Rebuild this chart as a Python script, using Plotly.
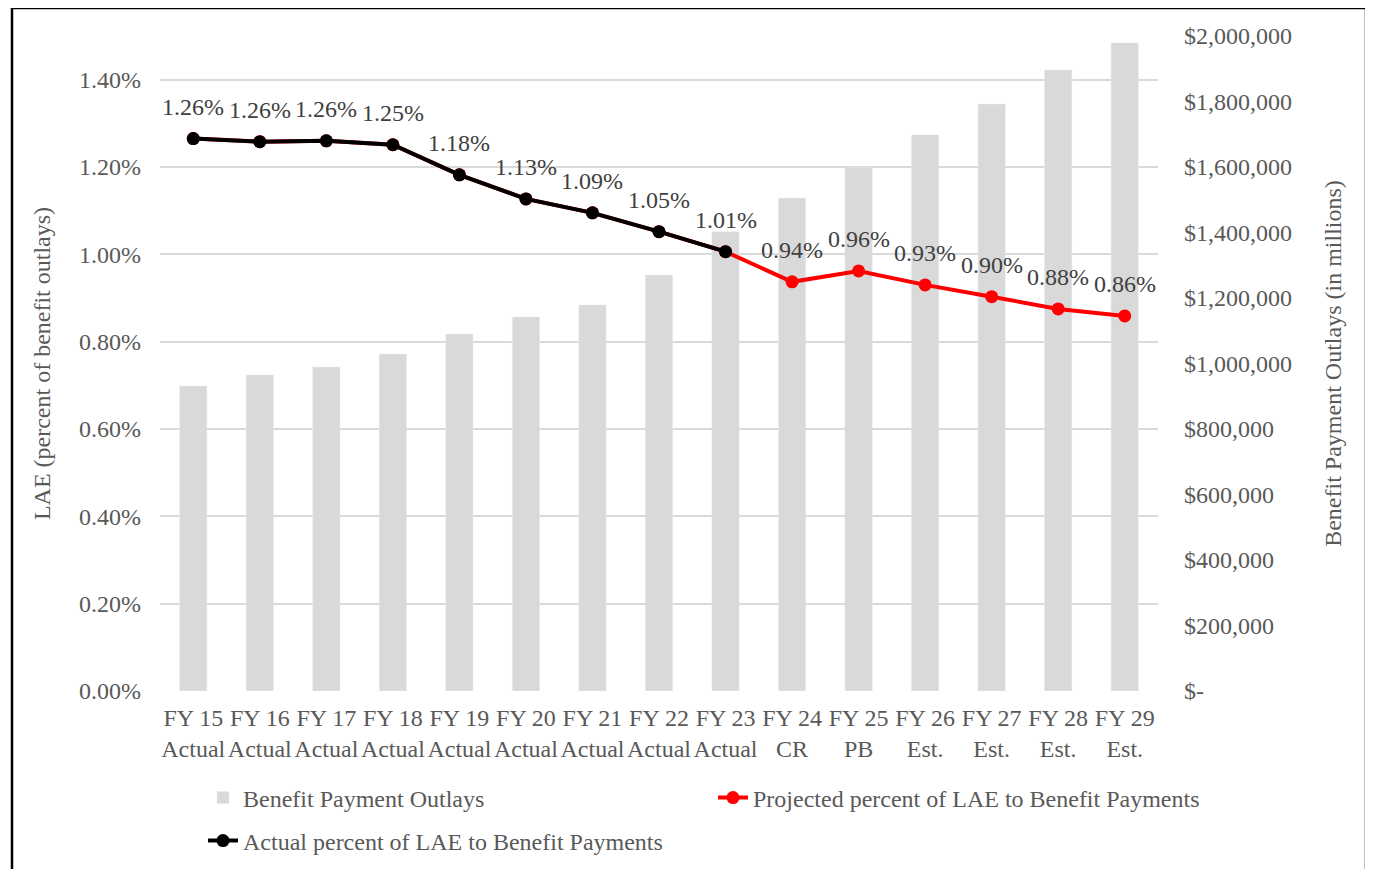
import plotly.graph_objects as go

categories = ["FY 15<br>Actual", "FY 16<br>Actual", "FY 17<br>Actual", "FY 18<br>Actual",
              "FY 19<br>Actual", "FY 20<br>Actual", "FY 21<br>Actual", "FY 22<br>Actual",
              "FY 23<br>Actual", "FY 24<br>CR", "FY 25<br>PB", "FY 26<br>Est.",
              "FY 27<br>Est.", "FY 28<br>Est.", "FY 29<br>Est."]
outlays = [931000, 965000, 989000, 1029000, 1090000, 1142000, 1179000, 1270000,
           1402000, 1505000, 1600000, 1698000, 1792000, 1896000, 1979000]
actual_pct = [1.265, 1.258, 1.260, 1.251, 1.182, 1.127, 1.095, 1.052, 1.006]
projected_pct = [1.265, 1.258, 1.260, 1.251, 1.182, 1.127, 1.095, 1.052, 1.006,
                 0.937, 0.962, 0.930, 0.903, 0.875, 0.859]
left_ticks = [0, 0.2, 0.4, 0.6, 0.8, 1.0, 1.2, 1.4]
right_ticks = [0, 200000, 400000, 600000, 800000, 1000000, 1200000, 1400000,
               1600000, 1800000, 2000000]
right_labels = ["$-"] + ["${:,}".format(v) for v in right_ticks[1:]]

FONT = "Liberation Serif, Times New Roman, serif"
GREY = "#595959"
FS = 24
W, H = 1365, 861  # page body has an 8px margin

fig = go.Figure()
fig.add_trace(go.Bar(x=categories, y=outlays, name="Benefit Payment Outlays",
                     marker_color="#d9d9d9", yaxis="y", legend="legend", showlegend=True))
fig.add_trace(go.Scatter(x=categories, y=projected_pct, mode="lines+markers",
                         name="Projected percent of LAE to Benefit Payments",
                         line=dict(color="#ff0000", width=4),
                         marker=dict(color="#ff0000", size=13), yaxis="y2",
                         legend="legend2", showlegend=True))
fig.add_trace(go.Scatter(x=categories[:len(actual_pct)], y=actual_pct, mode="lines+markers",
                         name="Actual percent of LAE to Benefit Payments",
                         line=dict(color="#000000", width=4),
                         marker=dict(color="#000000", size=13), yaxis="y2",
                         legend="legend3", showlegend=True))

annotations = []
for c, v in zip(categories, projected_pct):
    annotations.append(dict(x=c, y=v, xref="x", yref="y2", text="{:.2f}%".format(v),
                            showarrow=False, yshift=32,
                            font=dict(family=FONT, size=FS, color="#404040")))

leg_common = dict(orientation="h", xref="container", yref="container", xanchor="left",
                  yanchor="middle", bgcolor="rgba(0,0,0,0)",
                  font=dict(size=FS, color=GREY))

fig.update_layout(
    width=W, height=H,
    showlegend=True,
    margin=dict(l=152, r=215, t=28, b=178, autoexpand=False),
    paper_bgcolor="white", plot_bgcolor="white",
    font=dict(family=FONT, size=FS, color=GREY),
    bargap=0.59,
    xaxis=dict(showgrid=False, showline=False, ticks="", tickfont=dict(size=FS, color=GREY),
               range=[-0.5, 14.5], ticklabelstandoff=10),
    yaxis=dict(range=[0, 2000000], side="right",
               tickvals=right_ticks, ticktext=right_labels, showgrid=False,
               zeroline=False, ticks="", ticklabelstandoff=25,
               title=dict(text="Benefit Payment Outlays (in millions)", standoff=33,
                          font=dict(size=FS, color=GREY))),
    yaxis2=dict(range=[0, 1.5], overlaying="y", side="left", tickvals=left_ticks,
                ticktext=["{:.2f}%".format(t) for t in left_ticks],
                showgrid=True, gridcolor="#d9d9d9", gridwidth=1.5, zeroline=False,
                ticks="", ticklabelstandoff=18,
                title=dict(text="LAE (percent of benefit outlays)", standoff=21,
                           font=dict(size=FS, color=GREY))),
    legend=dict(x=195 / W, y=1 - 790 / H, **leg_common),
    legend2=dict(x=705 / W, y=1 - 790 / H, **leg_common),
    legend3=dict(x=195 / W, y=1 - 833 / H, **leg_common),
    annotations=annotations,
    shapes=[dict(type="rect", xref="paper", yref="paper",
                 x0=(4 - 152) / 998, x1=(1358 - 152) / 998,
                 y0=-0.3, y1=683 / 655,
                 line=dict(color="black", width=2.5), layer="below")],
)
fig.write_html("out.html")
